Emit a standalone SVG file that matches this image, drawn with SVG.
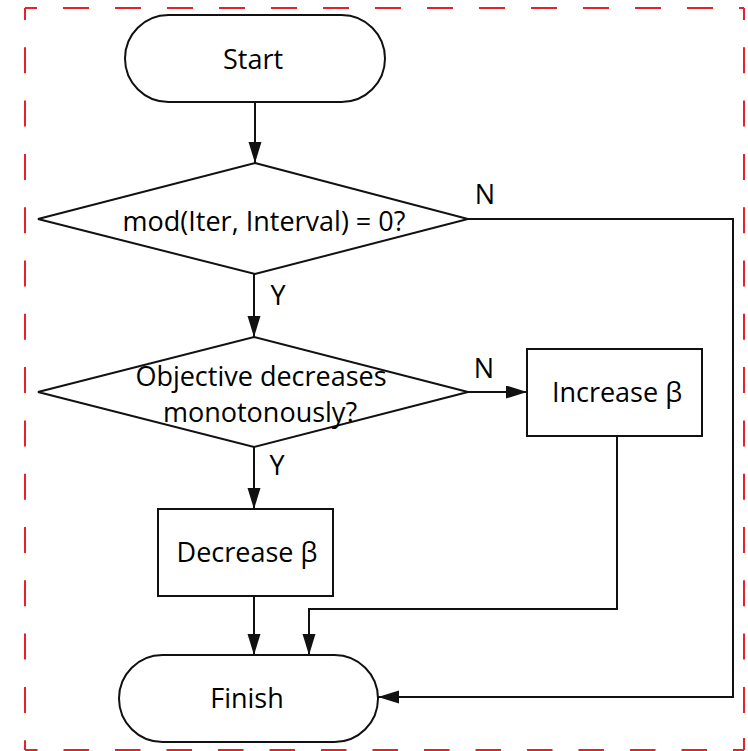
<svg xmlns="http://www.w3.org/2000/svg" width="748" height="751" viewBox="0 0 748 751">
<style>
.shape{fill:#fff;stroke:#111;stroke-width:2}
.conn{fill:none;stroke:#111;stroke-width:2}
.t{font-family:"Open Sans","Liberation Sans",sans-serif;font-size:27px;fill:#000;text-anchor:middle}
.border{stroke:#e8202a;stroke-width:2;fill:none}
</style>
<defs>
<marker id="arr" markerUnits="userSpaceOnUse" markerWidth="22" markerHeight="14" refX="21" refY="6.5" orient="auto">
<path d="M0,0 L21,6.5 L0,13 z" fill="#111"/>
</marker>
</defs>
<rect width="748" height="751" fill="#fff"/>
<g id="border">
<line class="border" x1="25" y1="8" x2="744" y2="8" stroke-dasharray="26 26" stroke-dashoffset="-38"/>
<line class="border" x1="25" y1="8" x2="31" y2="8"/>
<line class="border" x1="25" y1="8" x2="25" y2="750" stroke-dasharray="26 27.3" stroke-dashoffset="14"/>
<line class="border" x1="744" y1="8" x2="744" y2="750" stroke-dasharray="26 27.3" stroke-dashoffset="14"/>
<line class="border" x1="25" y1="750" x2="744" y2="750" stroke-dasharray="25.5 26" stroke-dashoffset="-38.5"/>
<line class="border" x1="733" y1="750" x2="744" y2="750"/>
<line class="border" x1="744" y1="738" x2="744" y2="750"/>
</g>
<g id="connectors">
<line class="conn" x1="255" y1="102" x2="255" y2="163" marker-end="url(#arr)"/>
<line class="conn" x1="254" y1="274" x2="254" y2="337" marker-end="url(#arr)"/>
<line class="conn" x1="468" y1="392" x2="527" y2="392" marker-end="url(#arr)"/>
<line class="conn" x1="254" y1="447" x2="254" y2="509" marker-end="url(#arr)"/>
<line class="conn" x1="254" y1="596" x2="254" y2="655" marker-end="url(#arr)"/>
<polyline class="conn" points="617,436 617,609 309,609 309,655" marker-end="url(#arr)"/>
<polyline class="conn" points="468,219 733,219 733,697 378,697" marker-end="url(#arr)"/>
<text class="t" x="485" y="204">N</text>
<text class="t" x="278" y="305">Y</text>
<text class="t" x="484" y="378">N</text>
<text class="t" x="277" y="475">Y</text>
</g>
<g id="start">
<rect class="shape" x="125" y="15" width="260" height="87" rx="43.5"/>
<text class="t" x="253" y="69">Start</text>
</g>
<g id="check-interval">
<polygon class="shape" points="255,163 468,219 255,274 38,219"/>
<text class="t" x="264" y="231">mod(Iter, Interval) = 0?</text>
</g>
<g id="check-objective">
<polygon class="shape" points="254,337 468,392 254,447 38,392"/>
<text class="t" x="261" y="386">Objective decreases</text>
<text class="t" x="260" y="422">monotonously?</text>
</g>
<g id="increase">
<rect class="shape" x="527" y="349" width="175" height="87"/>
<text class="t" x="617" y="402">Increase β</text>
</g>
<g id="decrease">
<rect class="shape" x="158" y="509" width="175" height="87"/>
<text class="t" x="247" y="562">Decrease β</text>
</g>
<g id="finish">
<rect class="shape" x="119" y="655" width="259" height="87" rx="43.5"/>
<text class="t" x="247" y="708">Finish</text>
</g>
</svg>
